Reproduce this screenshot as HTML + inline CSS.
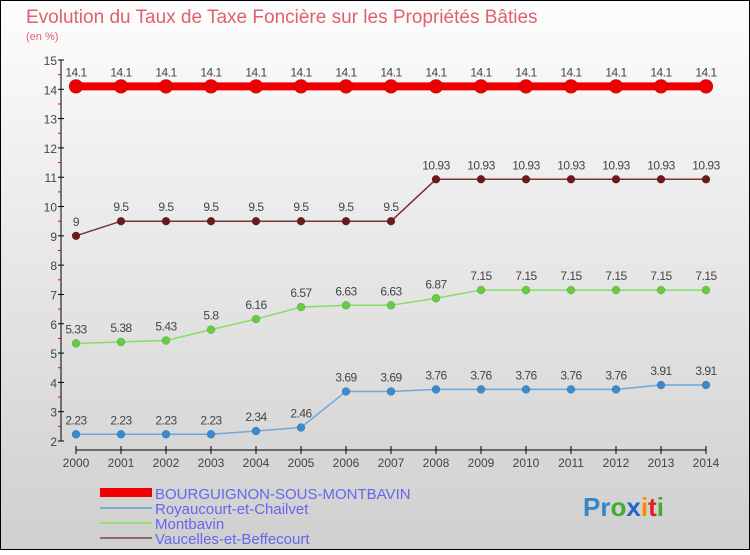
<!DOCTYPE html>
<html><head><meta charset="utf-8"><style>
body{margin:0;width:750px;height:550px;overflow:hidden;font-family:"Liberation Sans",sans-serif}
</style></head><body>
<svg width="750" height="550" xmlns="http://www.w3.org/2000/svg">
<defs><linearGradient id="bg" x1="0" y1="0" x2="0" y2="1"><stop offset="0" stop-color="#fdfdfd"/><stop offset="1" stop-color="#cfcfcf"/></linearGradient></defs>
<rect x="0.5" y="0.5" width="749" height="549" fill="url(#bg)" stroke="#000"/>
<text x="26" y="23" font-size="19" fill="#e06070">Evolution du Taux de Taxe Foncière sur les Propriétés Bâties</text>
<text x="26" y="40" font-size="11" fill="#e06070">(en %)</text>
<g id="axes"></g>
<g id="series"></g>
<g>
<rect x="100" y="488" width="52" height="9" fill="#ee0000"/>
<text x="155" y="499" font-size="15" fill="#6666ee">BOURGUIGNON-SOUS-MONTBAVIN</text>
<line x1="100" y1="508" x2="152" y2="508" stroke="#7aaed0" stroke-width="2"/>
<text x="155" y="514" font-size="15" fill="#6666ee">Royaucourt-et-Chailvet</text>
<line x1="100" y1="523" x2="152" y2="523" stroke="#99dd77" stroke-width="2"/>
<text x="155" y="529" font-size="15" fill="#6666ee">Montbavin</text>
<line x1="100" y1="538" x2="152" y2="538" stroke="#996666" stroke-width="2"/>
<text x="155" y="544" font-size="15" fill="#6666ee">Vaucelles-et-Beffecourt</text>
</g>
<text x="583" y="516" font-size="26" font-weight="bold"><tspan fill="#3388cc">Pr</tspan><tspan fill="#44aa33">o</tspan><tspan fill="#2266cc">x</tspan><tspan fill="#ff8800">i</tspan><tspan fill="#dd2222">t</tspan><tspan fill="#44aa33">i</tspan></text>
</svg>
<script>
const years=[2000,2001,2002,2003,2004,2005,2006,2007,2008,2009,2010,2011,2012,2013,2014];
const bourguignon=[14.1,14.1,14.1,14.1,14.1,14.1,14.1,14.1,14.1,14.1,14.1,14.1,14.1,14.1,14.1];
const vaucelles=[9,9.5,9.5,9.5,9.5,9.5,9.5,9.5,10.93,10.93,10.93,10.93,10.93,10.93,10.93];
const montbavin=[5.33,5.38,5.43,5.8,6.16,6.57,6.63,6.63,6.87,7.15,7.15,7.15,7.15,7.15,7.15];
const royaucourt=[2.23,2.23,2.23,2.23,2.34,2.46,3.69,3.69,3.76,3.76,3.76,3.76,3.76,3.91,3.91];
const yTicks=[2,3,4,5,6,7,8,9,10,11,12,13,14,15];
const NS="http://www.w3.org/2000/svg";
const X=i=>76+i*45, Y=v=>441-(v-2)*(381/13);
function mk(t,a,p){const e=document.createElementNS(NS,t);for(const k in a)e.setAttribute(k,a[k]);p.appendChild(e);return e;}
const ax=document.getElementById('axes');
const yl=mk('line',{x1:61,y1:Y(15),x2:61,y2:441,stroke:'#000','stroke-width':1},ax);


yTicks.forEach(v=>{
 mk('line',{x1:58,y1:Y(v),x2:64,y2:Y(v),stroke:'#000'},ax);
 if(v<15) mk('line',{x1:58,y1:Y(v+0.5),x2:61,y2:Y(v+0.5),stroke:'#e00'},ax);
 const t=mk('text',{x:57,y:Y(v)+5,'font-size':12,'text-anchor':'end',fill:'#444'},ax);t.textContent=v;
 
 
});
const xl=mk('line',{x1:X(0),y1:450,x2:X(14),y2:450,stroke:'#000'},ax);


years.forEach((y,i)=>{
 mk('line',{x1:X(i),y1:446,x2:X(i),y2:454,stroke:'#000'},ax);
 const t=mk('text',{x:X(i),y:467,'font-size':12,'text-anchor':'middle',fill:'#444'},ax);t.textContent=y;
 
 
});
const sg=document.getElementById('series');
function series(data,name,color,fill,w,r){
 const g=mk('g',{},sg);
 
 
 mk('polyline',{points:data.map((v,i)=>X(i)+','+Y(v)).join(' '),fill:'none',stroke:color,'stroke-width':w},g);
 data.forEach((v,i)=>{
  const c=mk('circle',{cx:X(i),cy:Y(v),r:r,fill:fill,stroke:'rgba(0,0,0,0.25)','stroke-width':0.5},g);
  
  
  const t=mk('text',{x:X(i),y:Y(v)-10,'font-size':12,'text-anchor':'middle',fill:'#444','letter-spacing':'-0.5'},g);t.textContent=v;
  
  
 });
}
series(royaucourt,'royaucourt-series','#6fa8d8','#3a8ad0',1.5,4);
series(montbavin,'montbavin-series','#88dd66','#66cc44',1.5,4);
series(vaucelles,'vaucelles-series','#7a3333','#6a1a1a',1.5,4);
series(bourguignon,'bourguignon-series','#ee0000','#ee0000',8,7);
</script>
</body></html>
